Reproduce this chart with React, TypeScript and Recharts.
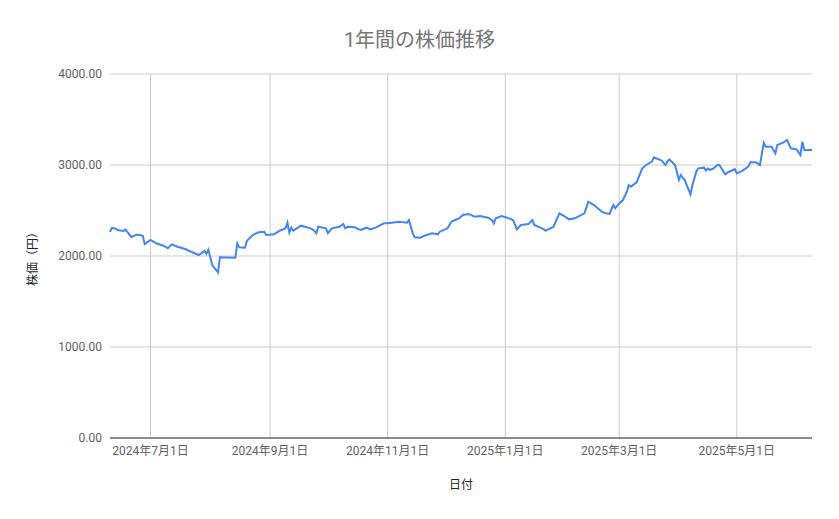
import { LineChart, Line, XAxis, YAxis, Label, ReferenceLine } from "recharts";

const dates = [
    "2024-06-10", "2024-06-11", "2024-06-13", "2024-06-14", "2024-06-17", "2024-06-18", "2024-06-21", "2024-06-24",
    "2024-06-27", "2024-06-28", "2024-07-01", "2024-07-04", "2024-07-08", "2024-07-10", "2024-07-12", "2024-07-15",
    "2024-07-19", "2024-07-22", "2024-07-26", "2024-07-29", "2024-07-30", "2024-07-31", "2024-08-02", "2024-08-05",
    "2024-08-06", "2024-08-14", "2024-08-15", "2024-08-16", "2024-08-19", "2024-08-20", "2024-08-23", "2024-08-26",
    "2024-08-29", "2024-08-30", "2024-09-03", "2024-09-06", "2024-09-09", "2024-09-10", "2024-09-11", "2024-09-12",
    "2024-09-13", "2024-09-17", "2024-09-22", "2024-09-24", "2024-09-25", "2024-09-26", "2024-09-30", "2024-10-01",
    "2024-10-03", "2024-10-07", "2024-10-09", "2024-10-10", "2024-10-11", "2024-10-15", "2024-10-17", "2024-10-18",
    "2024-10-21", "2024-10-23", "2024-10-26", "2024-10-30", "2024-11-01", "2024-11-07", "2024-11-11", "2024-11-12",
    "2024-11-14", "2024-11-15", "2024-11-18", "2024-11-20", "2024-11-24", "2024-11-27", "2024-11-28", "2024-12-02",
    "2024-12-04", "2024-12-06", "2024-12-08", "2024-12-10", "2024-12-13", "2024-12-16", "2024-12-19", "2024-12-23",
    "2024-12-25", "2024-12-26", "2024-12-27", "2024-12-30", "2025-01-02", "2025-01-05", "2025-01-07", "2025-01-09",
    "2025-01-13", "2025-01-15", "2025-01-16", "2025-01-20", "2025-01-22", "2025-01-26", "2025-01-29", "2025-02-01",
    "2025-02-03", "2025-02-06", "2025-02-11", "2025-02-13", "2025-02-16", "2025-02-20", "2025-02-22", "2025-02-24",
    "2025-02-26", "2025-02-27", "2025-03-01", "2025-03-03", "2025-03-05", "2025-03-06", "2025-03-07", "2025-03-10",
    "2025-03-13", "2025-03-15", "2025-03-18", "2025-03-19", "2025-03-23", "2025-03-25", "2025-03-26", "2025-03-27",
    "2025-03-30", "2025-04-01", "2025-04-02", "2025-04-04", "2025-04-07", "2025-04-08", "2025-04-10", "2025-04-11",
    "2025-04-14", "2025-04-15", "2025-04-16", "2025-04-17", "2025-04-19", "2025-04-21", "2025-04-22", "2025-04-25",
    "2025-04-27", "2025-04-30", "2025-05-01", "2025-05-04", "2025-05-07", "2025-05-08", "2025-05-11", "2025-05-13",
    "2025-05-15", "2025-05-16", "2025-05-19", "2025-05-21", "2025-05-22", "2025-05-25", "2025-05-27", "2025-05-29",
    "2025-06-01", "2025-06-03", "2025-06-04", "2025-06-05", "2025-06-09",
];

const prices = [
    2265, 2310, 2300, 2286, 2275, 2292, 2209, 2235,
    2222, 2130, 2176, 2140, 2110, 2085, 2128, 2102,
    2077, 2047, 2011, 2055, 2025, 2069, 1901, 1820,
    1986, 1982, 2139, 2095, 2091, 2168, 2231, 2260,
    2267, 2231, 2238, 2278, 2304, 2366, 2256, 2311,
    2278, 2333, 2304, 2278, 2249, 2322, 2304, 2249,
    2304, 2322, 2352, 2304, 2322, 2315, 2293, 2286,
    2311, 2293, 2315, 2359, 2359, 2377, 2366, 2396,
    2249, 2205, 2201, 2223, 2249, 2238, 2267, 2304,
    2377, 2396, 2414, 2451, 2462, 2432, 2440, 2421,
    2396, 2359, 2414, 2440, 2421, 2396, 2293, 2341,
    2352, 2396, 2341, 2304, 2278, 2322, 2469, 2432,
    2403, 2414, 2469, 2597, 2560, 2487, 2469, 2462,
    2560, 2524, 2578, 2615, 2707, 2780, 2762, 2806,
    2963, 3000, 3037, 3084, 3048, 3000, 3037, 3062,
    3000, 2835, 2890, 2835, 2678, 2780, 2926, 2963,
    2971, 2938, 2963, 2945, 2963, 3000, 3000, 2897,
    2926, 2956, 2908, 2938, 2982, 3029, 3029, 3000,
    3245, 3201, 3201, 3128, 3220, 3245, 3275, 3184,
    3172, 3110, 3256, 3165, 3165,
];

const tickDates = ["2024-07-01", "2024-09-01", "2024-11-01", "2025-01-01", "2025-03-01", "2025-05-01"];
const priceTicks = [0, 1000, 2000, 3000, 4000];

const data = dates.map((d, i) => ({ t: Date.parse(d), price: prices[i] }));
const xTicks = tickDates.map((d) => Date.parse(d));

const FONT = "Roboto, 'Noto Sans CJK JP', sans-serif";

const formatDate = (t: number) => {
    const d = new Date(t);
    return `${d.getUTCFullYear()}年${d.getUTCMonth() + 1}月${d.getUTCDate()}日`;
};

const YLabel = (props: any) => {
    const vb = props.viewBox || { x: 0, y: 0, width: 0, height: 0 };
    const cx = vb.x + 23;
    const cy = vb.y + vb.height / 2;
    return (
        <text x={cx} y={cy} transform={`rotate(-90 ${cx} ${cy})`} textAnchor="middle" dominantBaseline="central"
            fontSize={12} fill="#222" fontFamily={FONT}>
            株価（円）
        </text>
    );
};

const App = () => {
    return (
        <div style={{ position: "absolute", left: 0, top: 0, width: 839, height: 519, background: "#fff", fontFamily: FONT }}>
            <div style={{ position: "absolute", top: 29, left: 0, width: 839, textAlign: "center", fontSize: 20, lineHeight: "22px", color: "#757575" }}>
                1年間の株価推移
            </div>
            <LineChart width={839} height={519} data={data} margin={{ top: 74, right: 27, bottom: 51, left: 10 }}>
                {/* grid drawn as reference lines so no border lines appear at the plot edges */}
                {priceTicks.map((v) => (
                    <ReferenceLine key={`y${v}`} y={v} stroke="#cccccc" />
                ))}
                {xTicks.map((t) => (
                    <ReferenceLine key={`x${t}`} x={t} stroke="#cccccc" />
                ))}
                <XAxis
                    dataKey="t"
                    type="number"
                    scale="linear"
                    domain={["dataMin", "dataMax"]}
                    ticks={xTicks}
                    interval={0}
                    tickFormatter={formatDate}
                    tickLine={false}
                    axisLine={{ stroke: "#333333" }}
                    tick={{ fontSize: 12, fill: "#616161", fontFamily: FONT }}
                    height={30}
                >
                    <Label value="日付" position="bottom" offset={12} style={{ fontSize: 12, fill: "#222", fontFamily: FONT }} />
                </XAxis>
                <YAxis
                    domain={[0, 4000]}
                    ticks={priceTicks}
                    tickFormatter={(v: number) => v.toFixed(2)}
                    tickLine={false}
                    axisLine={false}
                    width={100}
                    tick={{ fontSize: 12, fill: "#616161", fontFamily: FONT }}
                >
                    <Label content={YLabel} />
                </YAxis>
                <Line type="linear" dataKey="price" stroke="#4285F4" strokeWidth={2} dot={false} isAnimationActive={false} />
            </LineChart>
        </div>
    );
};

export default App;
